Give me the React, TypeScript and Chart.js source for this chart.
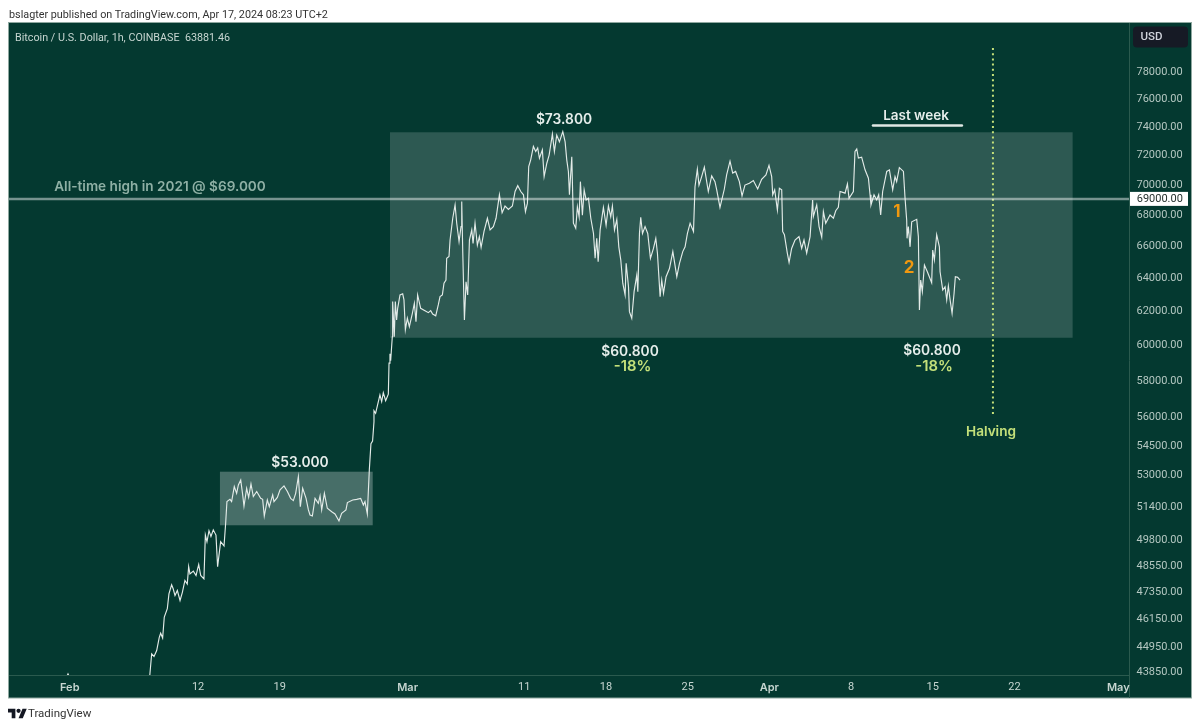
import { useEffect, useRef } from "react";
import { Chart, registerables } from "chart.js";

Chart.register(...registerables);

const FONT = "Inter, 'Noto Sans', sans-serif";
const TEXT_FONT = "Roboto, 'Noto Sans', sans-serif";

// x values are days counted from Feb 1 2024
const tickDays = [0.15, 11.15, 18.15, 29.1, 39.1, 46.1, 53.1, 60.1, 67.1, 74.1, 81.1, 90];
const tickNames = ["Feb", "12", "19", "Mar", "11", "18", "25", "Apr", "8", "15", "22", "May"];
const monthNames = ["Feb", "Mar", "Apr", "May"];

const priceTicks = [
  78000, 76000, 74000, 72000, 70000, 68000, 66000, 64000, 62000, 60000, 58000, 56000, 54500, 53000,
  51400, 49800, 48550, 47350, 46150, 44950, 43850,
];

const priceDays = [
  -0.1, 0, 0.1, 7, 7.17, 7.37, 7.6, 7.82, 7.94, 8.11, 8.25, 8.51, 8.65, 8.88, 9.02, 9.17, 9.37, 9.6, 9.8, 10.02,
  10.22, 10.34, 10.45, 10.74, 10.97, 11.2, 11.37, 11.65, 11.77, 11.91, 12.08, 12.25, 12.45, 12.68, 12.82, 13.08,
  13.37, 13.51, 13.62, 13.88, 14.02, 14.25, 14.45, 14.6, 14.8, 14.97, 15.08, 15.31, 15.48, 15.68, 15.88, 16.17,
  16.51, 16.68, 16.82, 17.08, 17.25, 17.54, 17.65, 17.94, 18.17, 18.51, 18.8, 19.08, 19.31, 19.51, 19.74, 19.91,
  20.11, 20.4, 20.6, 20.74, 20.94, 21.17, 21.45, 21.6, 21.74, 21.97, 22.22, 22.6, 22.88, 23.22, 23.45, 23.82,
  23.94, 24.4, 24.74, 25.08, 25.31, 25.45, 25.65, 25.82, 25.96, 26.1, 26.22, 26.22, 26.36, 26.53, 26.73, 26.88,
  27.02, 27.22, 27.45, 27.51, 27.59, 27.65, 27.79, 27.79, 27.85, 27.96, 28.05, 28.16, 28.25, 28.45, 28.68, 28.79,
  28.91, 29.08, 29.25, 29.51, 29.68, 29.82, 29.96, 30.22, 30.59, 30.88, 31.08, 31.25, 31.51, 31.73, 31.88, 32.08,
  32.22, 32.39, 32.45, 32.65, 32.74, 32.97, 33.17, 33.31, 33.51, 33.68, 33.74, 33.83, 33.97, 34.11, 34.25, 34.4,
  34.6, 34.71, 34.88, 35.08, 35.25, 35.4, 35.65, 35.94, 36.17, 36.45, 36.68, 36.97, 37.2, 37.45, 37.74, 38.08,
  38.31, 38.54, 38.8, 39.03, 39.2, 39.37, 39.48, 39.65, 39.88, 40.08, 40.25, 40.4, 40.65, 40.8, 41.03, 41.23,
  41.51, 41.68, 41.88, 42.11, 42.4, 42.6, 42.74, 42.88, 42.97, 43.17, 43.31, 43.51, 43.65, 43.8, 43.91, 44.08,
  44.23, 44.4, 44.6, 44.8, 45.03, 45.17, 45.31, 45.43, 45.6, 45.88, 46.11, 46.31, 46.51, 46.65, 46.83, 47.03,
  47.2, 47.37, 47.54, 47.74, 47.83, 48.03, 48.11, 48.31, 48.51, 48.74, 48.83, 48.97, 49.08, 49.23, 49.45, 49.68,
  49.91, 50.17, 50.37, 50.51, 50.74, 50.88, 51.03, 51.25, 51.54, 51.83, 52.17, 52.4, 52.68, 52.88, 53.08, 53.31,
  53.6, 53.73, 53.93, 54.07, 54.3, 54.53, 54.87, 55.16, 55.44, 55.59, 55.87, 56.24, 56.44, 56.73, 56.96, 57.21,
  57.53, 57.76, 58.01, 58.39, 58.73, 59.1, 59.44, 59.81, 60.07, 60.3, 60.39, 60.56, 60.79, 60.96, 61.16, 61.24,
  61.39, 61.64, 61.79, 62.01, 62.3, 62.64, 62.87, 63.07, 63.3, 63.59, 63.81, 63.87, 64.16, 64.36, 64.59, 64.73,
  64.93, 65.3, 65.59, 65.79, 66.01, 66.16, 66.59, 66.79, 66.93, 67.3, 67.44, 67.59, 67.73, 68.01, 68.3, 68.59,
  68.73, 68.81, 69.07, 69.3, 69.47, 69.64, 69.81, 70.16, 70.39, 70.67, 70.87, 71.01, 71.24, 71.59, 71.73, 71.87,
  71.9, 72.01, 72.16, 72.3, 72.73, 72.87, 72.96, 73.07, 73.21, 73.39, 73.64, 74.01, 74.1, 74.24, 74.44, 74.67,
  74.73, 74.96, 75.16, 75.3, 75.44, 75.59, 75.76, 75.93, 76.04, 76.24, 76.44,
];

const priceValues = [
  43650, 43760, 43650, 43650, 44610, 44500, 44750, 45320, 45500, 45290, 46210, 46580, 47250, 47660, 47470, 47170, 47400, 46950, 47320, 47860,
  47700, 48500, 48160, 48290, 48090, 48600, 48090, 47930, 49990, 49670, 50200, 49920, 50240, 49990, 48500, 49670,
  49470, 50560, 51620, 51730, 51620, 52370, 52030, 52450, 52700, 51950, 51400, 52280, 51830, 52500, 51870, 52120,
  51780, 51730, 50910, 51700, 51370, 51950, 51620, 51830, 52200, 52400, 52120, 51780, 51670, 52030, 52870, 51370,
  52280, 51780, 51210, 50960, 50910, 51780, 51530, 51900, 51210, 52030, 51290, 51120, 51010, 50670, 51040, 51210,
  51570, 51700, 51730, 51780, 51450, 51620, 51010, 53200, 54570, 54700, 55730, 56320, 56180, 56630, 57180, 56810,
  57300, 56860, 57220, 58950, 59480, 59080, 60460, 61040, 62530, 60460, 62530, 61440, 62130, 62930, 63000, 62630,
  60870, 61540, 61040, 61830, 62430, 61340, 62930, 62130, 61990, 61870, 61990, 61790, 61680, 62330, 62830, 62930,
  63640, 63830, 65180, 65290, 66330, 67730, 68600, 67410, 66230, 67190, 68820, 65500, 61430, 63730, 62930, 66330,
  66980, 66120, 67410, 66010, 66550, 65870, 66880, 67730, 66980, 67190, 67730, 69270, 68090, 68530, 68310, 68530,
  69490, 69880, 69490, 69270, 68160, 68720, 71170, 71630, 72560, 72210, 72450, 71740, 72320, 70490, 71400, 71960,
  73420, 72210, 73350, 72880, 73600, 72880, 71630, 70840, 69270, 71840, 67410, 67080, 68480, 67830, 70150, 67930,
  69600, 68930, 69040, 67730, 66750, 65180, 66440, 64960, 66980, 68440, 67280, 68530, 67830, 68530, 66980, 67660,
  65900, 65070, 63640, 62930, 64870, 63430, 61930, 61540, 63130, 64140, 63130, 66750, 67800, 66750, 67190, 66750,
  65180, 65800, 66440, 65500, 62830, 63830, 63030, 64040, 64540, 65600, 64040, 64870, 65600, 65900, 66750, 67410,
  66880, 69810, 71000, 69920, 70490, 71130, 69490, 70540, 70150, 69600, 68440, 69640, 70610, 71540, 70730, 70840,
  70150, 69200, 69920, 70040, 70220, 69660, 70310, 70610, 71250, 70490, 69270, 69600, 68270, 69710, 69600, 66880,
  66670, 65500, 64920, 65800, 66330, 66550, 65800, 66330, 65500, 66550, 68930, 67830, 68600, 67190, 66510, 68160,
  67410, 67940, 67730, 68220, 68440, 69490, 69380, 69990, 69040, 69490, 72210, 72380, 71750, 71820, 70950, 70380,
  69270, 68600, 69270, 68930, 69270, 67940, 69490, 70840, 70950, 69600, 70490, 70150, 71100, 70840, 69040, 67610,
  66440, 67190, 65900, 67500, 67660, 66550, 62030, 63830, 63130, 64760, 64340, 63670, 65700, 65070, 66670, 65900,
  64340, 63230, 63430, 62630, 63470, 62630, 61830, 63030, 64040, 64000, 63830,
];

const athLevel = 69000;
const athDays = [-5.06, 90.92];
const halvingDays = [79.26, 79.26];
const halvingPrices = [79740, 56100];
const lastWeekDays = [68.98, 76.6];
const lastWeekPrices = [74030, 74030];

const bigRangeDays = [27.59, 86.09];
const bigRangePrices = [60400, 73550];
const smallRangeDays = [13.02, 26.11];
const smallRangePrices = [50460, 53120];

const notes = [
  { text: "All-time high in 2021 @ $69.000", x: 160, y: 187, color: "#8fb0a5", size: 13.6 },
  { text: "$73.800", x: 564, y: 120, color: "#e6eeeb", size: 13.8 },
  { text: "$60.800", x: 630, y: 352, color: "#e6eeeb", size: 13.8 },
  { text: "-18%", x: 632.5, y: 367, color: "#c4e07a", size: 14.8 },
  { text: "$60.800", x: 932, y: 351, color: "#e6eeeb", size: 13.8 },
  { text: "-18%", x: 934, y: 367, color: "#c4e07a", size: 14.8 },
  { text: "$53.000", x: 300, y: 463, color: "#e6eeeb", size: 13.8 },
  { text: "Last week", x: 916, y: 116, color: "#e6eeeb", size: 13.5 },
  { text: "1", x: 897, y: 212, color: "#f0980f", size: 17 },
  { text: "2", x: 909, y: 268, color: "#f0980f", size: 17 },
  { text: "Halving", x: 991, y: 432, color: "#c4e07a", size: 13.6 },
];

const framePlugin = {
  id: "frame",
  beforeDraw(chart: any) {
    const { ctx, chartArea } = chart;
    ctx.save();
    ctx.fillStyle = "#043930";
    ctx.fillRect(8.5, 22.5, 1183, 675.5);
    ctx.strokeStyle = "#8fa8a0";
    ctx.lineWidth = 1;
    ctx.strokeRect(8.5, 22.5, 1183, 675.5);
    ctx.strokeStyle = "#2b5a4e";
    ctx.beginPath();
    ctx.moveTo(chartArea.right + 0.5, 23);
    ctx.lineTo(chartArea.right + 0.5, 698);
    ctx.moveTo(9, chartArea.bottom + 0.5);
    ctx.lineTo(chartArea.right, chartArea.bottom + 0.5);
    ctx.stroke();
    ctx.restore();
  },
  beforeDatasetsDraw(chart: any) {
    const { ctx, scales } = chart;
    const box = (days: number[], prices: number[], fill: string) => {
      const x0 = scales.x.getPixelForValue(days[0]);
      const x1 = scales.x.getPixelForValue(days[1]);
      const y0 = scales.y.getPixelForValue(prices[1]);
      const y1 = scales.y.getPixelForValue(prices[0]);
      ctx.fillStyle = fill;
      ctx.fillRect(x0, y0, x1 - x0, y1 - y0);
    };
    ctx.save();
    box(bigRangeDays, bigRangePrices, "rgba(255,255,255,0.165)");
    box(smallRangeDays, smallRangePrices, "rgba(255,255,255,0.27)");
    ctx.restore();
  },
  afterDraw(chart: any) {
    const { ctx, scales } = chart;
    ctx.save();
    ctx.textAlign = "center";
    ctx.textBaseline = "middle";
    notes.forEach((n) => {
      ctx.font = `${n.size > 16 ? 700 : 600} ${n.size}px ${FONT}`;
      ctx.fillStyle = n.color;
      ctx.fillText(n.text, n.x, n.y);
    });

    ctx.textAlign = "left";
    ctx.font = `400 10.75px ${TEXT_FONT}`;
    ctx.fillStyle = "#c7d6d1";
    ctx.fillText("Bitcoin / U.S. Dollar, 1h, COINBASE  63881.46", 15, 38);

    // currency button
    ctx.fillStyle = "#161a25";
    ctx.beginPath();
    ctx.roundRect(1133, 26.5, 55, 21, 4);
    ctx.fill();
    ctx.font = `500 11.5px ${TEXT_FONT}`;
    ctx.fillStyle = "#d1d4dc";
    ctx.fillText("USD", 1140.5, 37.5);

    // price tag on the 69000 level
    const tagY = scales.y.getPixelForValue(athLevel);
    ctx.fillStyle = "#ffffff";
    ctx.fillRect(1130, tagY - 7, 58, 14);
    ctx.font = `400 11px ${TEXT_FONT}`;
    ctx.fillStyle = "#1f2b28";
    ctx.fillText(athLevel.toFixed(2), 1136.7, tagY + 0.5);
    ctx.restore();
  },
};

export default function App() {
  const canvasRef = useRef<HTMLCanvasElement | null>(null);

  useEffect(() => {
    if (!canvasRef.current) return;
    const chart = new Chart(canvasRef.current, {
      type: "line",
      data: {
        datasets: [
          {
            label: "ATH 2021",
            data: athDays.map((d) => ({ x: d, y: athLevel })),
            borderColor: "rgba(255,255,255,0.46)",
            borderWidth: 2.5,
            pointRadius: 0,
          },
          {
            label: "Last week",
            data: lastWeekDays.map((d, i) => ({ x: d, y: lastWeekPrices[i] })),
            borderColor: "#dfe8e4",
            borderWidth: 2.5,
            borderCapStyle: "round",
            pointRadius: 0,
          },
          {
            label: "Halving",
            data: halvingDays.map((d, i) => ({ x: d, y: halvingPrices[i] })),
            borderColor: "#c4e07a",
            borderWidth: 2,
            borderDash: [2, 3.2],
            pointRadius: 0,
          },
          {
            label: "BTCUSD",
            data: priceDays.map((d, i) => ({ x: d, y: priceValues[i] })),
            borderColor: "#e3ebe8",
            borderWidth: 1.15,
            pointRadius: 0,
            tension: 0,
          },
        ],
      },
      options: {
        responsive: false,
        animation: false,
        layout: { padding: { left: 9, top: 23, right: 8.5, bottom: 30 } },
        plugins: { legend: { display: false }, tooltip: { enabled: false } },
        scales: {
          x: {
            type: "linear",
            min: -5.056,
            max: 90.92,
            grid: { display: false, drawTicks: false },
            border: { display: false },
            afterBuildTicks: (scale: any) => {
              scale.ticks = tickDays.map((value) => ({ value }));
            },
            afterFit: (scale: any) => {
              scale.height = 23;
            },
            ticks: {
              autoSkip: false,
              maxRotation: 0,
              padding: 6,
              color: "#c7d6d1",
              callback: (_v: any, i: number) => tickNames[i],
              font: (ctx: any) => ({
                family: monthNames.includes(tickNames[ctx.index]) ? FONT : TEXT_FONT,
                size: 11,
                weight: monthNames.includes(tickNames[ctx.index]) ? 600 : 400,
              }),
            },
          },
          y: {
            type: "logarithmic",
            position: "right",
            min: 43713,
            max: 81674,
            grid: { display: false, drawTicks: false },
            border: { display: false },
            afterBuildTicks: (scale: any) => {
              scale.ticks = priceTicks.map((value) => ({ value }));
            },
            afterFit: (scale: any) => {
              scale.width = 62.5;
            },
            ticks: {
              autoSkip: false,
              padding: 7.5,
              labelOffset: 1,
              color: "#b4c7c1",
              font: { family: TEXT_FONT, size: 11 },
              callback: (v: any) => Number(v).toFixed(2),
            },
          },
        },
      },
      plugins: [framePlugin],
    } as any);
    return () => chart.destroy();
  }, []);

  return (
    <div style={{ position: "absolute", left: 0, top: 0, width: 1200, height: 728, background: "#fff", overflow: "hidden" }}>
      <canvas ref={canvasRef} width={1200} height={728} style={{ display: "block" }} />
      <div style={{ position: "absolute", left: 9, top: 8, font: `10.8px ${TEXT_FONT}`, color: "#333", whiteSpace: "nowrap" }}>
        bslagter published on TradingView.com, Apr 17, 2024 08:23 UTC+2
      </div>
      <svg style={{ position: "absolute", left: 8, top: 707 }} width="19" height="13" viewBox="0 2 36 22">
        <path fill="#131722" d="M14 22H7V11H0V4h14v18zM28 22h-8l7.5-18h8L28 22z" />
        <circle fill="#131722" cx="20" cy="8" r="4" />
      </svg>
      <div style={{ position: "absolute", left: 28, top: 706, font: `11.5px ${TEXT_FONT}`, color: "#333", whiteSpace: "nowrap" }}>TradingView</div>
    </div>
  );
}
